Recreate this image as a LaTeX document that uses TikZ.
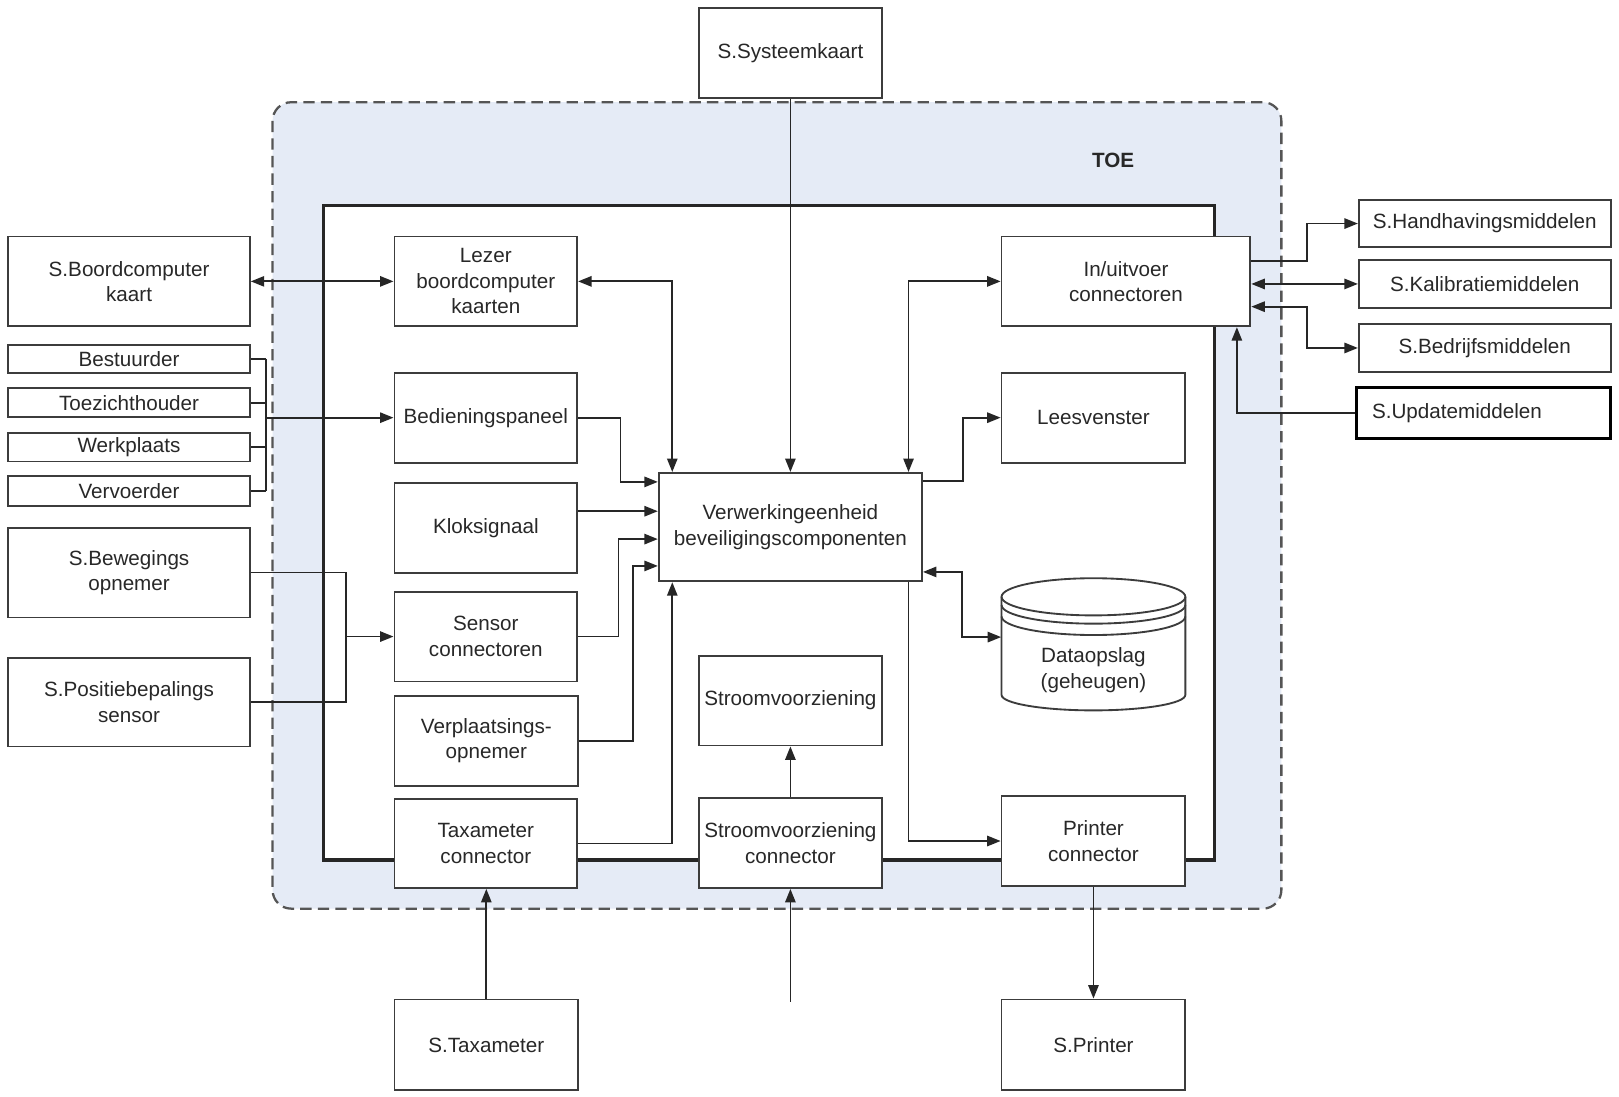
\documentclass[tikz,border=0pt]{standalone}
\usepackage{fontspec}
\setmainfont{Liberation Sans}
\usetikzlibrary{arrows.meta,calc}
\definecolor{toefill}{RGB}{229,235,246}
\definecolor{edge}{RGB}{60,60,60}
\definecolor{ink}{RGB}{40,40,40}
\definecolor{dashc}{RGB}{85,85,85}
\begin{document}
\begin{tikzpicture}[x=0.5pt,y=-0.5pt,
  box/.style={draw=edge, line width=0.9pt, fill=white, inner sep=0pt, align=center, text=ink, font=\fontsize{10}{12.3}\selectfont},
  span/.style args={#1/#2/#3/#4}{at={({(#1+#3)/2},{(#2+#4)/2})}, minimum width={(#3-#1)*0.5pt}, minimum height={(#4-#2)*0.5pt}},
  conn/.style={draw=black!85, line width=0.85pt},
  tip/.style={-{Triangle[length=6.5pt,width=5pt]}},
  both/.style={{Triangle[length=6.5pt,width=5pt]}-{Triangle[length=6.5pt,width=5pt]}},
  lbl/.style={text=ink, align=center, font=\fontsize{10}{12.3}\selectfont, inner sep=0pt}
]
% background / bounding box
\fill[white] (0,0) rectangle (1568,1062);
\useasboundingbox (0,0) rectangle (1568,1062);

% TOE area
\draw[fill=toefill, draw=dashc, line width=1.1pt, dash pattern=on 5.5pt off 3pt, rounded corners=9pt] (264,99) rectangle (1241,880);
\node[text=ink, font=\bfseries\fontsize{10}{12}\selectfont] (toel) at (1078,155) {TOE};

% inner box
\draw[fill=white, draw=black!85, line width=1.6pt] (313,199) rectangle (1176,833);

% external left
\node[box, span=677/8/854/95] (sys) {S.Systeemkaart};
\node[box, span=8/229/242/316] (sbk) {S.Boordcomputer\\kaart};
\node[box, span=8/334/242/361] (bes) {Bestuurder};
\node[box, span=8/376/242/404] (tzh) {Toezichthouder};
\node[box, span=8/419/242/447] (wrk) {Werkplaats};
\node[box, span=8/461/242/490] (vvd) {Vervoerder};
\node[box, span=8/511/242/598] (bew) {S.Bewegings\\opnemer};
\node[box, span=8/637/242/723] (pos) {S.Positiebepalings\\sensor};

% inner column 1
\node[box, span=382/229/559/316] (lez) {Lezer\\boordcomputer\\kaarten};
\node[box, span=382/361/559/448] (bed) {Bedieningspaneel};
\node[box, span=382/468/559/555] (klk) {Kloksignaal};
\node[box, span=382/573/559/660] (sen) {Sensor\\connectoren};
\node[box, span=382/674/560/761] (vpl) {Verplaatsings-\\opnemer};
\node[box, span=382/774/559/860] (tc) {Taxameter\\connector};

% column 2
\node[box, span=638/458/893/563] (ver) {Verwerkingeenheid\\beveiligingscomponenten};
\node[box, span=677/635/854/722] (sv) {Stroomvoorziening};
\node[box, span=677/773/854/860] (svc) {Stroomvoorziening\\connector};

% column 3
\node[box, span=970/229/1211/316] (io) {In/uitvoer\\connectoren};
\node[box, span=970/361/1148/448] (lees) {Leesvenster};
\node[box, span=970/771/1148/858] (pc) {Printer\\connector};

% cylinder
\node[inner sep=0pt, span=970/560/1148/674] (dat) {};
\fill[white] (970,578) arc[start angle=180, end angle=360, x radius=89, y radius=18]
  -- (1148,673) arc[start angle=0, end angle=180, x radius=89, y radius=15] -- cycle;
\draw[edge, line width=0.9pt] (1059,578) ellipse [x radius=89, y radius=18];
\draw[edge, line width=0.9pt] (970,586) arc[start angle=180, end angle=0, x radius=89, y radius=18];
\draw[edge, line width=0.9pt] (970,597) arc[start angle=180, end angle=0, x radius=89, y radius=18];
\draw[edge, line width=0.9pt] (970,578) -- (970,673) arc[start angle=180, end angle=0, x radius=89, y radius=15] -- (1148,578);
\node[lbl] (datt) at (1059,649) {Dataopslag\\(geheugen)};

% external right
\node[box, span=1316/194/1560/239] (hh) {S.Handhavingsmiddelen};
\node[box, span=1316/252/1560/298] (kal) {S.Kalibratiemiddelen};
\node[box, span=1316/314/1560/360] (bdm) {S.Bedrijfsmiddelen};
\node[box, draw=black, line width=1.6pt, span=1314/375/1560/425] (upd) {};
\node[lbl, anchor=west] (updt) at ([xshift=8pt]upd.west) {S.Updatemiddelen};

% external bottom
\node[box, span=382/968/560/1056] (stx) {S.Taxameter};
\node[box, span=970/968/1148/1056] (spr) {S.Printer};

% ---------- connectors ----------
\draw[conn,both] (sbk.east) -- (lez.west);

\draw[conn] (bes.east) -- ++(15,0) coordinate (b1);
\draw[conn] (vvd.east) -- ++(15,0) coordinate (b4);
\draw[conn] (b1) -- (b4);
\draw[conn] (tzh.east) -- (tzh.east -| b1);
\draw[conn] (wrk.east) -- (wrk.east -| b1);
\draw[conn,tip] (b1 |- bed.west) -- (bed.west);

\draw[conn] (bew.east) -- ++(92,0) coordinate (j1) -- (j1 |- pos.east) -- (pos.east);
\draw[conn,tip] (j1 |- sen.west) -- (sen.west);

\coordinate (vn1) at ([xshift=7pt]ver.north west);
\coordinate (vn3) at ([xshift=-7pt]ver.north east);
\draw[conn,both] (lez.east) -| (vn1);
\draw[conn,tip] (sys.south) -- (ver.north);
\draw[conn,both] (io.west) -| (vn3);

\coordinate (vw1) at ([yshift=-4.8pt]ver.north west);
\coordinate (vw2) at ([yshift=-19pt]ver.north west);
\coordinate (vw3) at ([yshift=-32.5pt]ver.north west);
\coordinate (vw4) at ([yshift=-45.5pt]ver.north west);
\draw[conn,tip] (bed.east) -- ++(41,0) |- (vw1);
\draw[conn,tip] (klk.east |- vw2) -- (vw2);
\draw[conn,tip] (sen.east) -- ++(39,0) |- (vw3);
\draw[conn,tip] (vpl.east) -- ++(52,0) |- (vw4);

\coordinate (vs1) at ([xshift=7pt]ver.south west);
\coordinate (vs3) at ([xshift=-7pt]ver.south east);
\draw[conn,tip] (tc.east) -| (vs1);
\draw[conn,tip] (vs3) |- (pc.west);

\coordinate (ve1) at ([yshift=-4.5pt]ver.north east);
\coordinate (ve2) at ([yshift=5pt]ver.south east);
\draw[conn,tip] (ve1) -- ++(39,0) |- (lees.west);
\draw[conn,both] (ve2) -- ++(38,0) |- (dat.west);

\draw[conn,tip] (stx.north) -- (stx.north |- tc.south);
\coordinate (pin) at (765.5,970);
\draw[conn,tip] (pin) -- (svc.south);
\draw[conn,tip] (svc.north) -- (sv.south);
\draw[conn,tip] (pc.south) -- (spr.north);

\draw[conn,tip] ([yshift=9.75pt]io.east) -- ++(54,0) |- (hh.west);
\draw[conn,both] (io.east |- kal.west) -- (kal.west);
\draw[conn,both] ([yshift=-12.25pt]io.east) -- ++(54,0) |- (bdm.west);
\draw[conn,tip] (upd.west) -| ([xshift=-7pt]io.south east);
\end{tikzpicture}
\end{document}
